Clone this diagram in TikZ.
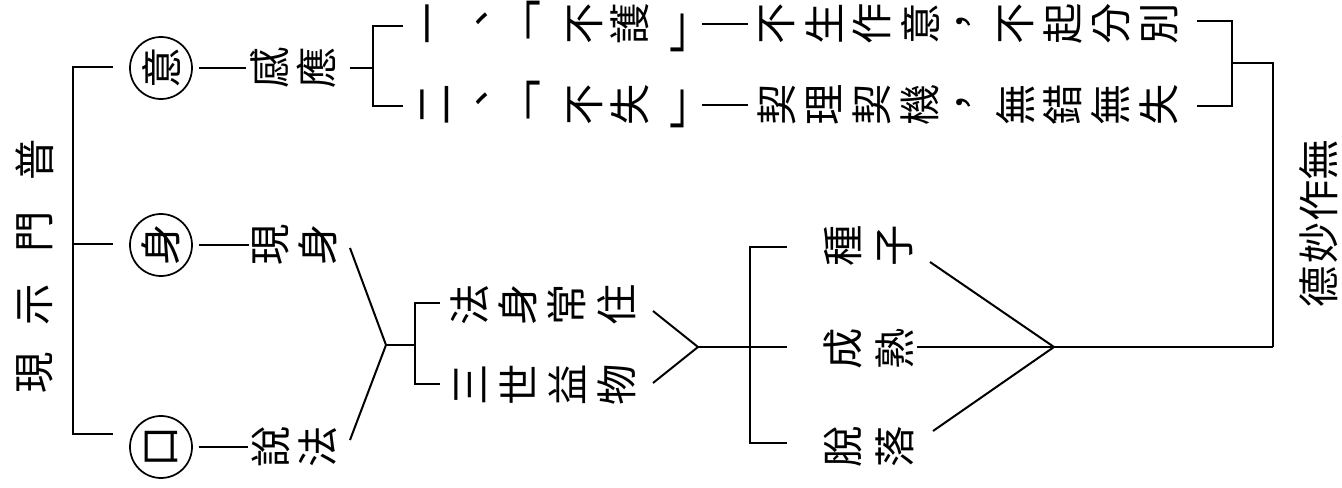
\documentclass[tikz,border=0pt]{standalone}
\usepackage{fontspec}
\usepackage{graphicx}
\newfontfamily\cjk{Noto Sans CJK TC}
\newcommand\cjkfont{\cjk\fontsize{31}{31}\selectfont}
\newcommand\tallbrk[1]{\scalebox{1.3}[1]{#1}}
\begin{document}
\begin{tikzpicture}[x=0.75pt,y=-0.75pt,
  ch/.style={rotate=90,inner sep=0pt,font=\cjkfont},
  circ/.style={circle,draw,line width=1.3pt,minimum size=46.5pt,inner sep=0pt,rotate=90,font=\cjkfont},
  ln/.style={line width=1.5pt},
  thinln/.style={line width=1.1pt},
  punct/.style={ch},
  obrk/.style={rotate=90,inner sep=0pt,font=\cjkfont},
  cbrk/.style={rotate=-90,inner sep=0pt,font=\cjkfont}]
\useasboundingbox (0,0) rectangle (1342,488);

% title
\foreach \c/\y/\n in {現/373/t1,示/305/t2,門/232/t3,普/160/t4}
  \node[ch] (\n) at (35,\y) {\c};

% left bracket
\coordinate (lt) at (113,67);
\coordinate (lm) at (113,244);
\coordinate (lb) at (113,434);
\coordinate (lvt) at (73,67);
\coordinate (lvm) at (73,244);
\coordinate (lvb) at (73,434);
\draw[ln] (lt) -- (lvt) -- (lvb) -- (lb);
\draw[ln] (lvm) -- (lm);

% circles
\node[circ] (cy) at (161,68) {意};
\node[circ] (cs) at (161,245) {身};
\node[circ] (ck) at (161,447) {口};

% second level
\node[ch] (g1) at (270,68) {感};
\node[ch] (g2) at (316,68) {應};
\node[ch] (x1) at (271,245) {現};
\node[ch] (x2) at (318,245) {身};
\node[ch] (s1) at (271,447) {說};
\node[ch] (s2) at (318,447) {法};
\draw[ln,shorten <=4.5pt,shorten >=3pt] (cy.south) -- (g1.north);
\draw[ln,shorten <=4.5pt,shorten >=3pt] (cs.south) -- (x1.north);
\draw[ln,shorten <=4.5pt,shorten >=3pt] (ck.south) -- (s1.north);

% ganying bracket
\coordinate (gb0) at (350,68);
\coordinate (gbv) at (373,68);
\coordinate (gbt) at (373,26);
\coordinate (gbb) at (373,106);
\coordinate (gt1) at (403,26);
\coordinate (gt2) at (403,106);
\draw[ln] (gb0) -- (gbv);
\draw[ln] (gt1) -- (gbt) -- (gbb) -- (gt2);

% row 1
\foreach \c/\x/\n in {一/435/a1,不/585/a4,護/630/a5,不/777/a7,生/824/a8,作/872/a9,意/920/a10,不/1016/a12,起/1063/a13,分/1111/a14,別/1159/a15}
  \node[ch] (\n) at (\x,24) {\c};
\node[punct] (a2) at (487,18.5) {、};
\node[obrk] (a3) at (534,27) {\tallbrk{﹁}};
\node[cbrk] (a6) at (677,26) {\tallbrk{﹁}};
\node[punct] (a11) at (968,22) {，};
\coordinate (da1) at (702,24);
\coordinate (da2) at (748,24);
\draw[thinln] (da1) -- (da2);

% row 2
\foreach \c/\x/\n in {二/435/b1,不/585/b4,失/630/b5,契/777/b7,理/824/b8,契/872/b9,機/920/b10,無/1016/b12,錯/1063/b13,無/1111/b14,失/1159/b15}
  \node[ch] (\n) at (\x,105) {\c};
\node[punct] (b2) at (487,99) {、};
\node[obrk] (b3) at (534,107) {\tallbrk{﹁}};
\node[cbrk] (b6) at (677,102) {\tallbrk{﹁}};
\node[punct] (b11) at (968,103) {，};
\coordinate (db1) at (702,105);
\coordinate (db2) at (748,105);
\draw[thinln] (db1) -- (db2);

% right bracket
\coordinate (rt1) at (1197,21);
\coordinate (rtv1) at (1232,21);
\coordinate (rtv2) at (1232,106);
\coordinate (rt2) at (1197,106);
\coordinate (rm) at (1232,63);
\coordinate (rv) at (1273,63);
\coordinate (rvb) at (1273,347);
\draw[ln] (rt1) -- (rtv1) -- (rtv2) -- (rt2);
\draw[ln] (rm) -- (rv) -- (rvb);

% de miao zuo wu
\foreach \c/\y/\n in {無/160/e1,作/201/e2,妙/243/e3,德/287/e4}
  \node[ch] (\n) at (1319,\y) {\c};

% bottom-left fork
\coordinate (fa) at (350,248);
\coordinate (fb) at (350,440);
\coordinate (fp) at (386,345);
\coordinate (fq) at (415,345);
\coordinate (bv1) at (415,303);
\coordinate (bv2) at (415,384);
\coordinate (bt1) at (440,303);
\coordinate (bt2) at (440,384);
\draw[ln] (fa) -- (fp) -- (fb);
\draw[ln] (fp) -- (fq);
\draw[ln] (bt1) -- (bv1) -- (bv2) -- (bt2);

\foreach \c/\x/\n in {法/470/f1,身/518/f2,常/567/f3,住/617/f4}
  \node[ch] (\n) at (\x,305) {\c};
\foreach \c/\x/\n in {三/470/m1,世/518/m2,益/567/m3,物/617/m4}
  \node[ch] (\n) at (\x,385) {\c};

% second fork
\coordinate (ga) at (653,311);
\coordinate (gb) at (653,383);
\coordinate (gp) at (698,347);
\coordinate (hv1) at (750,247);
\coordinate (hv2) at (750,443);
\coordinate (ht1) at (787,247);
\coordinate (ht2) at (787,347);
\coordinate (ht3) at (787,443);
\draw[ln] (ga) -- (gp) -- (gb);
\draw[ln] (gp) -- (ht2);
\draw[ln] (ht1) -- (hv1) -- (hv2) -- (ht3);

\node[ch] (z1) at (843,246) {種};
\node[ch] (z2) at (895,246) {子};
\node[ch] (c1) at (843,349) {成};
\node[ch] (c2) at (895,349) {熟};
\node[ch] (d1) at (843,447) {脫};
\node[ch] (d2) at (895,447) {落};

% third fork
\coordinate (ka) at (930,262);
\coordinate (kb) at (933,431);
\coordinate (kp) at (1054,347);
\coordinate (kq) at (917,347);
\draw[ln] (ka) -- (kp) -- (kb);
\draw[ln] (kq) -- (rvb);
\end{tikzpicture}
\end{document}
